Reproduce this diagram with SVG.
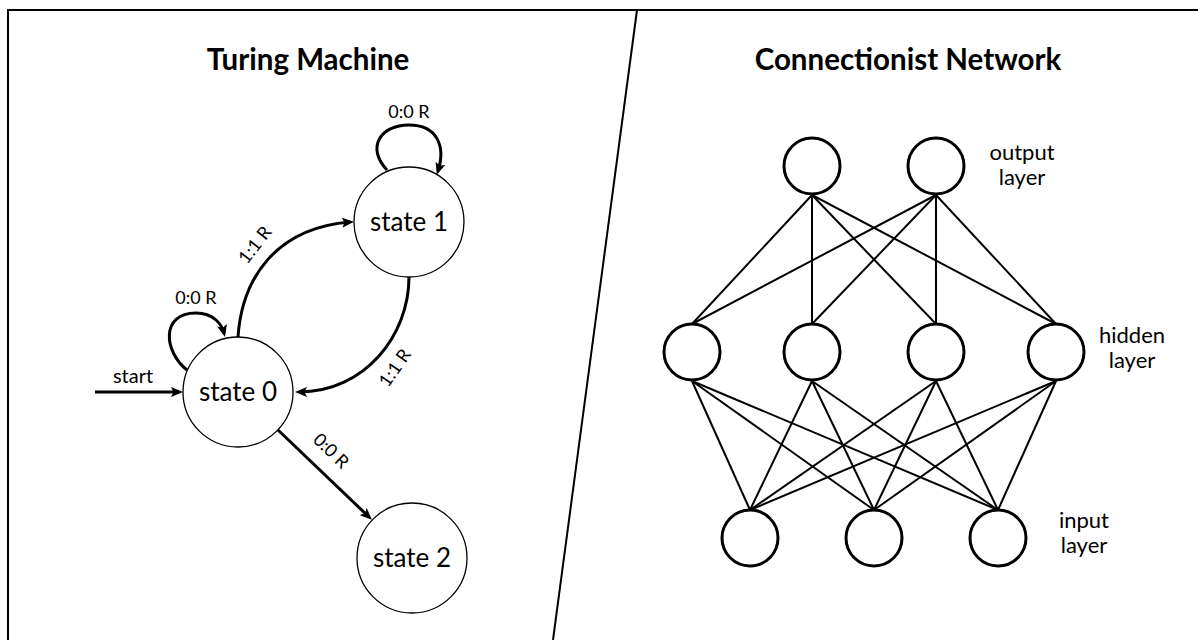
<svg xmlns="http://www.w3.org/2000/svg" width="1198" height="640" viewBox="0 0 1198 640">
<style>
  text { font-family: Lato, "Open Sans", "Liberation Sans", sans-serif; fill: #000; }
  .title { font-size: 29.5px; font-weight: 700; text-anchor: middle; }
  .state { font-size: 26px; text-anchor: middle; }
  .lbl { font-size: 18px; text-anchor: middle; }
  .layer { font-size: 22px; text-anchor: middle; }
  .sc { fill: #fff; stroke: #000; stroke-width: 1.3; }
  .edge { fill: none; stroke: #000; stroke-width: 3; marker-end: url(#arr); }
  .nn { fill: #fff; stroke: #000; stroke-width: 3; }
  .syn { stroke: #000; stroke-width: 2; }
</style>
<defs>
  <marker id="arr" viewBox="0 0 12 10" refX="8" refY="5" markerWidth="12" markerHeight="10" orient="auto" markerUnits="userSpaceOnUse">
    <path d="M0,0 L12,5 L0,10 L2.5,5 z" fill="#000"/>
  </marker>
</defs>
<rect width="1198" height="640" fill="#fff"/>
<g id="frame" fill="none" stroke="#000" stroke-width="2">
  <rect x="8" y="10" width="1260" height="700"/>
  <line x1="637" y1="10" x2="553" y2="640"/>
</g>
<text class="title" x="308" y="70">Turing Machine</text>
<text class="title" x="908" y="70">Connectionist Network</text>

<g id="tm-connectors">
  <path id="e-start" class="edge" d="M95,392 L179,392"/>
  <path id="e-loop0" class="edge" d="M187,370 C164,352 160,313 196,313 C214,313 222,325 224,333"/>
  <path id="e-loop1" class="edge" d="M387,170 C366,148 380,125 409,125 C437,125 446,146 438,171"/>
  <path id="e-01" class="edge" d="M238,337 C242,278 276,228 350,222"/>
  <path id="e-10" class="edge" d="M409,277 C409,335 365,392 299,392"/>
  <path id="e-02" class="edge" d="M278,430 L369,517"/>
  <text class="lbl" x="133" y="383" style="font-size:20px">start</text>
  <text class="lbl" x="409" y="118">0:0 R</text>
  <text class="lbl" x="196" y="304">0:0 R</text>
  <text class="lbl" transform="translate(255,245) rotate(-52)" y="6">1:1 R</text>
  <text class="lbl" transform="translate(395,368) rotate(-55)" y="6">1:1 R</text>
  <text class="lbl" transform="translate(331,451) rotate(44)" y="6">0:0 R</text>
</g>

<g id="state0"><circle class="sc" cx="238" cy="392" r="55"/><text class="state" x="238" y="401">state 0</text></g>
<g id="state1"><circle class="sc" cx="409" cy="222" r="55"/><text class="state" x="409" y="231">state 1</text></g>
<g id="state2"><circle class="sc" cx="412" cy="558" r="55"/><text class="state" x="412" y="567">state 2</text></g>

<g id="nn-connectors" class="syn">
  <line x1="812" y1="195" x2="692" y2="324"/>
  <line x1="812" y1="195" x2="812" y2="324"/>
  <line x1="812" y1="195" x2="936" y2="324"/>
  <line x1="812" y1="195" x2="1056" y2="324"/>
  <line x1="936" y1="195" x2="692" y2="324"/>
  <line x1="936" y1="195" x2="812" y2="324"/>
  <line x1="936" y1="195" x2="936" y2="324"/>
  <line x1="936" y1="195" x2="1056" y2="324"/>
  <line x1="692" y1="381" x2="750" y2="510"/>
  <line x1="692" y1="381" x2="874" y2="510"/>
  <line x1="692" y1="381" x2="998" y2="510"/>
  <line x1="812" y1="381" x2="750" y2="510"/>
  <line x1="812" y1="381" x2="874" y2="510"/>
  <line x1="812" y1="381" x2="998" y2="510"/>
  <line x1="936" y1="381" x2="750" y2="510"/>
  <line x1="936" y1="381" x2="874" y2="510"/>
  <line x1="936" y1="381" x2="998" y2="510"/>
  <line x1="1056" y1="381" x2="750" y2="510"/>
  <line x1="1056" y1="381" x2="874" y2="510"/>
  <line x1="1056" y1="381" x2="998" y2="510"/>
</g>

<g id="out1"><circle class="nn" cx="812" cy="166" r="28"/></g>
<g id="out2"><circle class="nn" cx="936" cy="166" r="28"/></g>
<g id="hid1"><circle class="nn" cx="692" cy="352" r="28"/></g>
<g id="hid2"><circle class="nn" cx="812" cy="352" r="28"/></g>
<g id="hid3"><circle class="nn" cx="936" cy="352" r="28"/></g>
<g id="hid4"><circle class="nn" cx="1056" cy="352" r="28"/></g>
<g id="in1"><circle class="nn" cx="750" cy="538" r="28"/></g>
<g id="in2"><circle class="nn" cx="874" cy="538" r="28"/></g>
<g id="in3"><circle class="nn" cx="998" cy="538" r="28"/></g>

<g id="layer-labels">
  <text class="layer" x="1022" y="160">output</text>
  <text class="layer" x="1022" y="185">layer</text>
  <text class="layer" x="1132" y="343">hidden</text>
  <text class="layer" x="1132" y="368">layer</text>
  <text class="layer" x="1084" y="528">input</text>
  <text class="layer" x="1084" y="553">layer</text>
</g>
</svg>
